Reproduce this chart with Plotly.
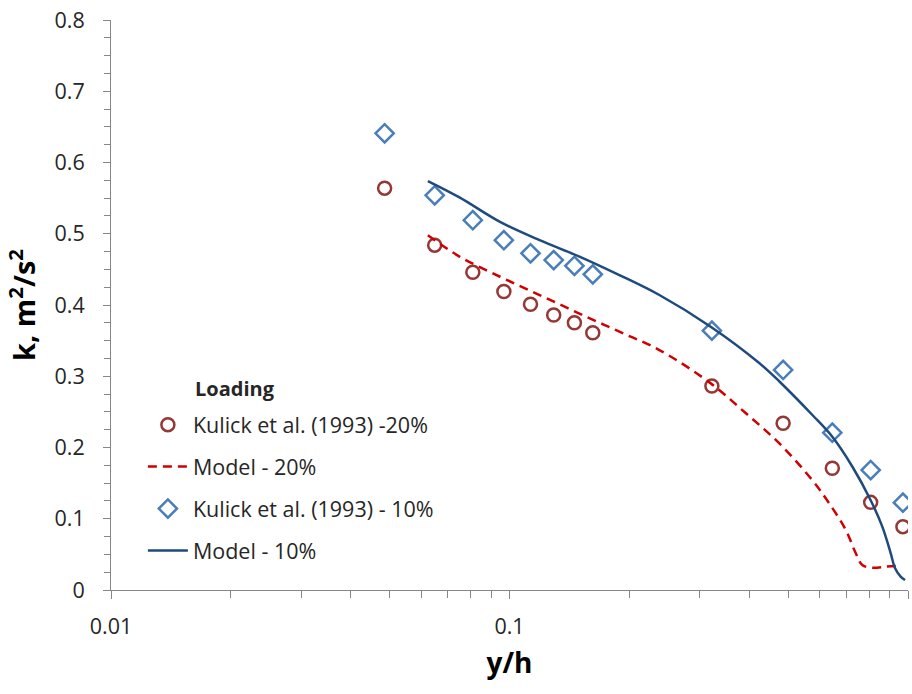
import plotly.graph_objects as go

# Experimental data (Kulick et al. 1993)
x_exp20 = [0.0486, 0.0649, 0.0809, 0.0968, 0.1129, 0.1291, 0.1455, 0.1618, 0.322, 0.486, 0.6458, 0.806, 0.971]
k_exp20 = [0.564, 0.484, 0.446, 0.419, 0.401, 0.386, 0.375, 0.361, 0.2863, 0.234, 0.1708, 0.123, 0.0889]
x_exp10 = [0.0486, 0.0649, 0.0809, 0.0968, 0.1129, 0.1291, 0.1455, 0.1618, 0.322, 0.486, 0.6458, 0.806, 0.971]
k_exp10 = [0.641, 0.554, 0.519, 0.491, 0.4725, 0.463, 0.455, 0.443, 0.364, 0.3088, 0.2208, 0.1684, 0.1226]

# Model curves
x_mod20 = [0.0624, 0.0749, 0.0944, 0.119, 0.1498, 0.1887, 0.2377, 0.32, 0.392, 0.475, 0.5755, 0.634, 0.698, 0.7396, 0.768, 0.8135, 0.879, 0.949]
k_mod20 = [0.498, 0.468, 0.44, 0.414, 0.388, 0.3625, 0.3368, 0.29, 0.248, 0.206, 0.154, 0.1217, 0.0842, 0.0515, 0.035, 0.0313, 0.0327, 0.0341]
x_mod10 = [0.0624, 0.0749, 0.0944, 0.119, 0.1498, 0.1887, 0.2377, 0.3198, 0.4233, 0.475, 0.5755, 0.6458, 0.7253, 0.806, 0.862, 0.905, 0.928, 0.9585, 0.983]
k_mod10 = [0.574, 0.551, 0.517, 0.491, 0.468, 0.442, 0.414, 0.3696, 0.3186, 0.293, 0.2456, 0.215, 0.173, 0.126, 0.0889, 0.0515, 0.0304, 0.0187, 0.014]

x_tickvals = [0.01, 0.1, 1]
x_ticktext = ["0.01", "0.1", "1"]
x_minor_vals = [0.02, 0.03, 0.04, 0.05, 0.06, 0.07, 0.08, 0.09,
                0.2, 0.3, 0.4, 0.5, 0.6, 0.7, 0.8, 0.9]
y_tickvals = [0, 0.1, 0.2, 0.3, 0.4, 0.5, 0.6, 0.7, 0.8]
y_ticktext = ["0", "0.1", "0.2", "0.3", "0.4", "0.5", "0.6", "0.7", "0.8"]
legend_title = "Loading"

FONT = "'Open Sans', 'Liberation Sans', sans-serif"
AXC = "#868686"
TXT = "#262626"
FS = 21.5

fig = go.Figure()
fig.add_trace(go.Scatter(
    x=x_exp20, y=k_exp20, mode="markers", name="Kulick et al. (1993) -20%",
    legendgroup="a",
    marker=dict(symbol="circle-open", size=13, color="#953735", line=dict(width=2.5, color="#953735")),
))
fig.add_trace(go.Scatter(
    x=x_mod20, y=k_mod20, mode="lines", name="Model - 20%", legendgroup="b",
    line=dict(color="#D00000", width=2.5, dash="9px,6px", shape="spline", smoothing=1.0),
))
fig.add_trace(go.Scatter(
    x=x_exp10, y=k_exp10, mode="markers", name="Kulick et al. (1993) - 10%",
    legendgroup="c",
    marker=dict(symbol="diamond-open", size=14, color="#4A7EBB", line=dict(width=2.5, color="#4A7EBB")),
))
fig.add_trace(go.Scatter(
    x=x_mod10, y=k_mod10, mode="lines", name="Model - 10%", legendgroup="d",
    line=dict(color="#1F4A7E", width=2.5, shape="spline", smoothing=1.0),
))

fig.add_annotation(
    xref="paper", yref="paper", x=(193 - 111) / 797, y=(590 - 388) / 570,
    xanchor="left", yanchor="middle", showarrow=False,
    text="<b>" + legend_title + "</b>",
    font=dict(size=20, family=FONT, color=TXT),
)

fig.update_layout(
    width=912, height=694,
    margin=dict(l=111, r=4, t=20, b=104),
    paper_bgcolor="white", plot_bgcolor="white",
    font=dict(family=FONT, size=FS, color=TXT),
    showlegend=True,
    legend=dict(
        x=0.04, y=0.326, xanchor="left", yanchor="top",
        bgcolor="rgba(0,0,0,0)",
        itemwidth=40, tracegroupgap=11,
        font=dict(size=FS, family=FONT, color=TXT),
    ),
    xaxis=dict(
        type="log", range=[-2, 0],
        tickvals=x_tickvals, ticktext=x_ticktext,
        tickfont=dict(size=FS, family=FONT, color=TXT),
        showgrid=False, zeroline=False,
        showline=True, linecolor=AXC, linewidth=1,
        ticks="outside", ticklen=8, tickcolor=AXC, tickwidth=1,
        ticklabelstandoff=9,
        minor=dict(ticks="outside", ticklen=7, tickvals=x_minor_vals, tickcolor=AXC, tickwidth=1, showgrid=False),
        title=dict(text="<b>y/h</b>", font=dict(size=28, family=FONT, color="black"), standoff=14),
    ),
    yaxis=dict(
        range=[0, 0.8], tickvals=y_tickvals, ticktext=y_ticktext,
        tickfont=dict(size=FS, family=FONT, color=TXT),
        showgrid=False, zeroline=False,
        showline=True, linecolor=AXC, linewidth=1,
        ticks="outside", ticklen=7, tickcolor=AXC, tickwidth=1,
        ticklabelstandoff=14,
        minor=dict(ticks="outside", ticklen=6, dtick=0.025, tickcolor=AXC, tickwidth=1, showgrid=False),
        title=dict(text="<b>k, m<sup>2</sup>/s<sup>2</sup></b>", font=dict(size=29, family=FONT, color="black"), standoff=10),
    ),
)

fig.write_html("out.html")
